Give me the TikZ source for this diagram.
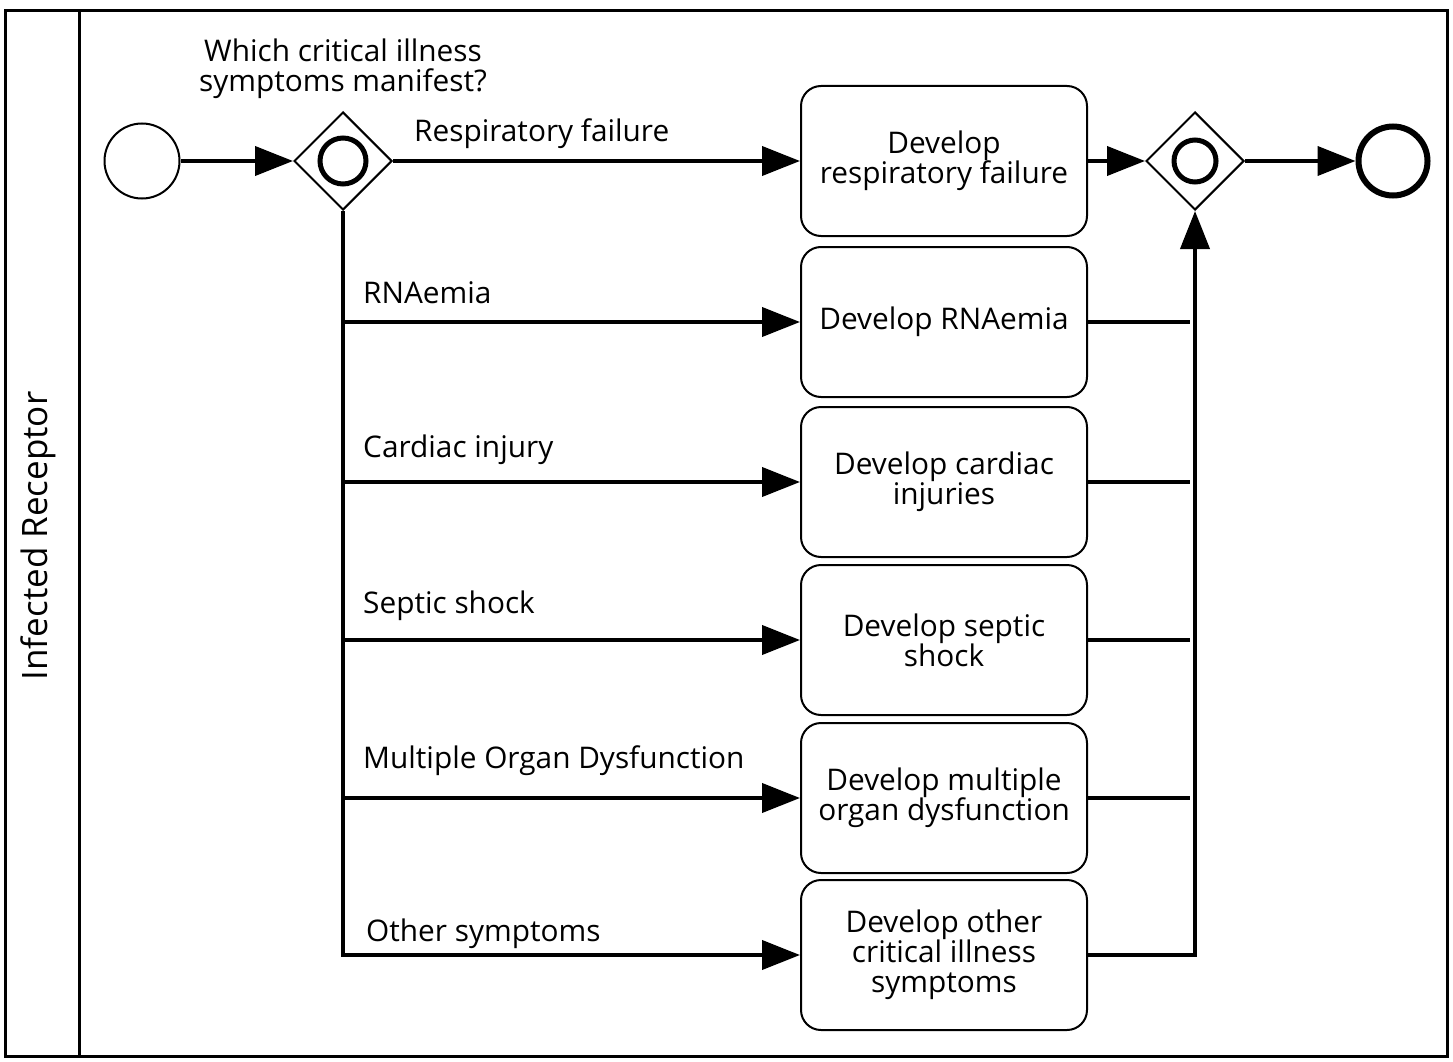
\documentclass[tikz,border=0pt]{standalone}
\usepackage{fontspec}
\setmainfont{Open Sans}
\usetikzlibrary{arrows.meta,shapes.geometric,positioning}

\begin{document}
\begin{tikzpicture}[x=1pt,y=-1pt,
    flow/.style={line width=4pt,-{Triangle[length=38pt,width=29pt]}},
    flow plain/.style={line width=4pt},
    task/.style={draw,line width=2pt,rounded corners=20pt,
        minimum width=286pt,minimum height=150pt,align=center,
        inner sep=0pt,font=\fontsize{29.8}{30}\selectfont},
    gateway/.style={draw,diamond,line width=2pt,minimum size=98pt,
        inner sep=0pt,fill=white},
    start event/.style={draw,circle,line width=2pt,minimum size=75pt,inner sep=0pt},
    end event/.style={draw,circle,line width=6pt,minimum size=69pt,inner sep=0pt},
    flow label/.style={anchor=base west,inner sep=0pt,font=\fontsize{29.8}{30}\selectfont}
]
    \useasboundingbox (0,0) rectangle (1453,1062);
    % pool and lane
    \draw[line width=3pt] (5,11) rectangle (1447,1056);
    \draw[line width=3pt] (79,11) -- (79,1056);
    \node[rotate=90,font=\fontsize{35}{40}\selectfont] (lane) at (38,536) {Infected Receptor};

    % events and gateways
    \node[start event] (start) at (142,161) {};
    \node[gateway] (split) at (343,161) {};
    \draw[line width=5pt] (split) circle (23);
    \node[align=center,font=\fontsize{29.8}{30}\selectfont] (question) at (343,69)
        {Which critical illness\\symptoms manifest?};
    \node[gateway] (merge) at (1195,161) {};
    \draw[line width=5pt] (merge) circle (21);
    \node[end event] (finish) at (1393,161) {};

    % tasks
    \foreach \i/\y/\txt in {1/161/{Develop\\respiratory failure},
        2/322/{Develop RNAemia},
        3/482/{Develop cardiac\\injuries},
        4/640/{Develop septic\\shock},
        5/798/{Develop multiple\\organ dysfunction},
        6/955/{Develop other\\critical illness\\symptoms}} {
        \node[task] (t\i) at (944,\y) {\txt};
    }

    % flow labels
    \node[flow label] (l1) at (414,142) {Respiratory failure};
    \node[flow label] (l2) at (363,303) {RNAemia};
    \node[flow label] (l3) at (363,457) {Cardiac injury};
    \node[flow label] (l4) at (363,613) {Septic shock};
    \node[flow label] (l5) at (363,768) {Multiple Organ Dysfunction};
    \node[flow label] (l6) at (366,941) {Other symptoms};

    % sequence flows
    \draw[flow] (start) -- (split);
    \draw[flow] (split) -- (t1);
    \foreach \i in {2,...,6} {
        \draw[flow] (split.south) |- (t\i.west);
    }
    \draw[flow] (t1) -- (merge);
    \foreach \i in {2,...,5} {
        \draw[flow plain] (t\i.east) -- ([xshift=-5pt]t\i.east -| merge.south);
    }
    \draw[flow] (t6.east) -| (merge.south);
    \draw[flow] (merge) -- (finish);

\end{tikzpicture}
\end{document}
